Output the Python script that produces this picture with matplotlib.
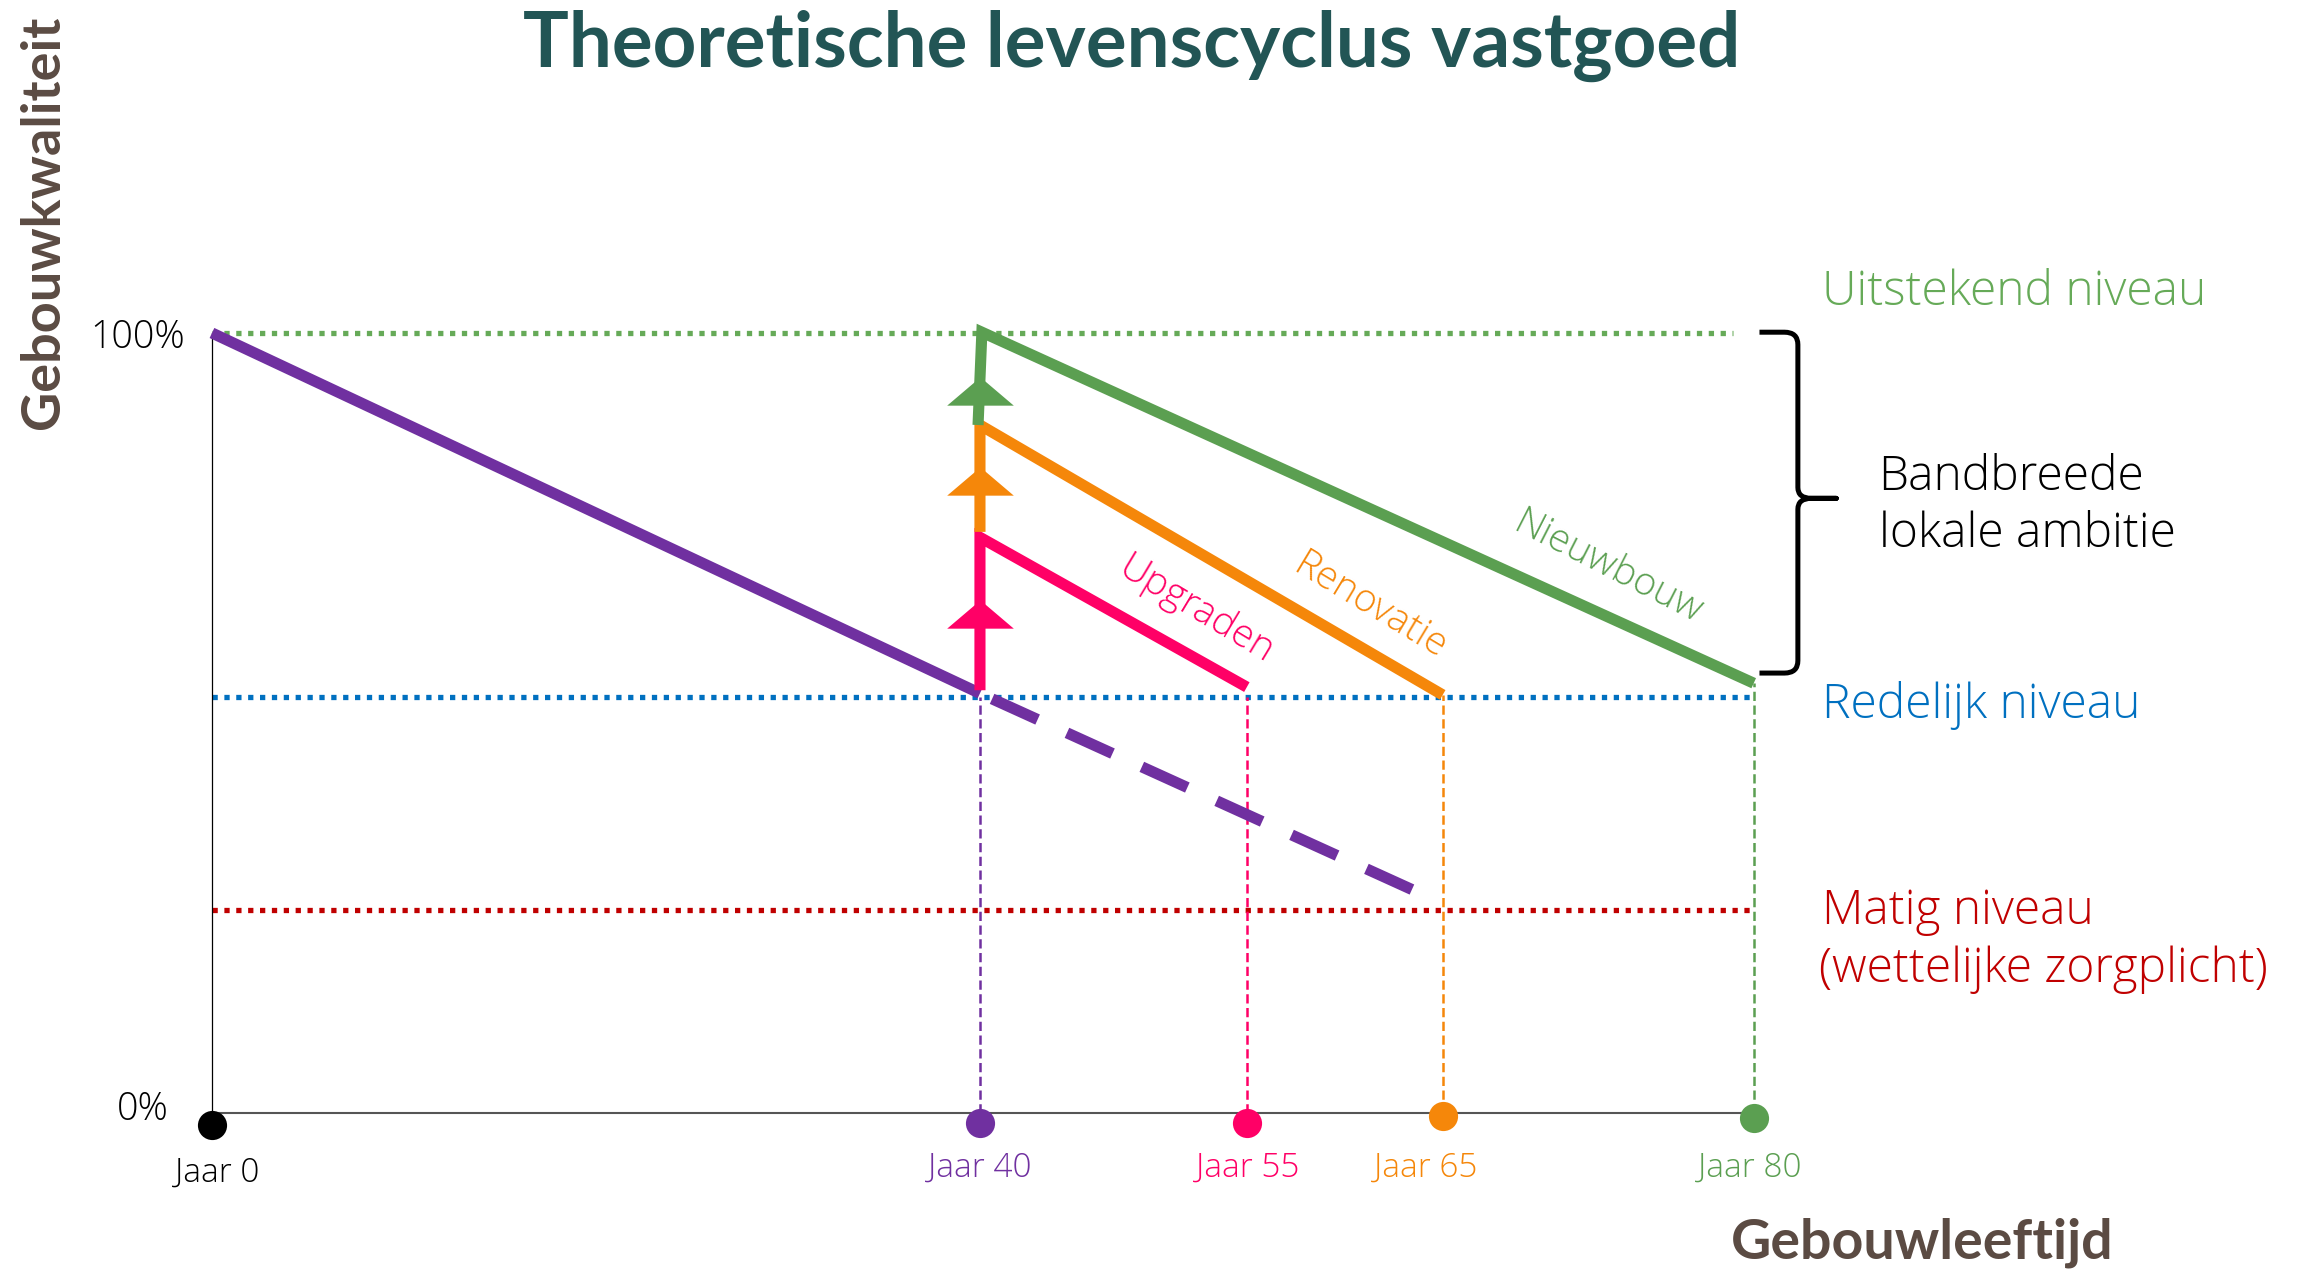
import matplotlib
matplotlib.use('Agg')
import matplotlib.pyplot as plt
from matplotlib.path import Path
from matplotlib.patches import PathPatch

# Data (x = gebouwleeftijd in jaren zoals getekend, y = gebouwkwaliteit in %)
jaar_x = [0, 40, 53.9, 64.1, 80.3]
jaar_labels = ['Jaar 0', 'Jaar 40', 'Jaar 55', 'Jaar 65', 'Jaar 80']
dot_y = [-1.5, -1.3, -1.3, -0.4, -0.7]
dot_colors = ['#000000', '#7030a0', '#ff0066', '#f5870a', '#5b9f51']

niveau_uitstekend = 100
niveau_redelijk = 53.3
niveau_matig = 26.0

veroudering_x = [0, 40]
veroudering_y = [100, 53.8]
verder_x = [40, 62.9]
verder_y = [53.8, 28.2]

upgraden_x = [40, 40, 53.9]
upgraden_y = [54.2, 73.8, 54.6]
renovatie_x = [40, 40, 64.1]
renovatie_y = [74.5, 88.2, 53.6]
nieuwbouw_x = [39.9, 40.1, 80.3]
nieuwbouw_y = [88.2, 100.1, 55.1]

pijl_y = [64.0, 81.0, 92.6]   # upgraden, renovatie, nieuwbouw

PURPLE = '#7030a0'
PINK = '#ff0066'
ORANGE = '#f5870a'
GREEN = '#5b9f51'
BLUE = '#0070c0'
RED = '#c00000'
BROWN = '#5b4b43'
TEAL = '#225555'

FONT = ['Open Sans', 'DejaVu Sans']
BOLD = ['Lato', 'DejaVu Sans']

fig = plt.figure(figsize=(23.18, 12.70), dpi=100)
ax = fig.add_axes([0, 0, 1, 1])
ax.set_xlim(-11.04, 109.69)
ax.set_ylim(-20.13, 142.69)
ax.axis('off')

# niveaulijnen
dots = (0, (1, 1.25))
ax.plot([0, 79.2], [niveau_uitstekend] * 2, color='#66aa58', lw=3.8, linestyle=dots)
ax.plot([0, 80.2], [niveau_redelijk] * 2, color=BLUE, lw=3.8, linestyle=dots)
ax.plot([0, 80.1], [niveau_matig] * 2, color=RED, lw=3.8, linestyle=dots)

# assen
ax.plot([0, 0], [0, 100], color='black', lw=0.9)
ax.plot([0, jaar_x[-1]], [0, 0], color='#555555', lw=1.5)

# verticale hulplijnen
drops = [(jaar_x[1], 53.3, PURPLE), (jaar_x[2], 53.3, PINK),
         (jaar_x[3], renovatie_y[-1], ORANGE), (jaar_x[4], nieuwbouw_y[-1], GREEN)]
for x, ytop, c in drops:
    ax.plot([x, x], [0, ytop], color=c, lw=1.8, linestyle=(0, (3.7, 1.8)))

# levenscyclus lijnen
kw = dict(lw=8, solid_capstyle='butt', solid_joinstyle='miter')
ax.plot(veroudering_x, veroudering_y, color=PURPLE, **kw)
ax.plot(verder_x, verder_y, color=PURPLE, lw=8, linestyle=(6.2, (4.5, 2.9)),
        dash_capstyle='butt')
ax.plot(upgraden_x, upgraden_y, color=PINK, **kw)
ax.plot(renovatie_x, renovatie_y, color=ORANGE, **kw)
ax.plot(nieuwbouw_x, nieuwbouw_y, color=GREEN, **kw)

# pijlpunten
tri = [(-1, -0.425), (1, -0.425), (0, 0.425)]
for y, c in zip(pijl_y, [PINK, ORANGE, GREEN]):
    ax.plot([40], [y], marker=tri, markersize=48, color=c, markeredgewidth=0)

# punten op de tijdas
for x, y, c in zip(jaar_x, dot_y, dot_colors):
    ax.plot([x], [y], 'o', markersize=21, color=c, markeredgewidth=0, zorder=5)
lab_x = [0.26, 40, 53.96, 63.2, 80.1]
lab_y = [-7.7, -7.0, -7.0, -7.0, -7.0]
for x, y, c, lab in zip(lab_x, lab_y, dot_colors, jaar_labels):
    ax.text(x, y, lab, color=c, fontsize=24, family=FONT, weight='light',
            ha='center', va='center')

# labels bij de lijnen
ax.text(51.25, 64.5, 'Upgraden', color=PINK, fontsize=28, family=FONT, weight='light',
        rotation=-31, rotation_mode='anchor', ha='center', va='center')
ax.text(60.3, 65.0, 'Renovatie', color=ORANGE, fontsize=28, family=FONT, weight='light',
        rotation=-31, rotation_mode='anchor', ha='center', va='center')
ax.text(72.7, 69.9, 'Nieuwbouw', color=GREEN, fontsize=28, family=FONT, weight='light',
        rotation=-27, rotation_mode='anchor', ha='center', va='center')

# accolade
bx0, bx1, bx2 = 80.6, 82.6, 84.6
yt, yb, ym = 100.1, 56.4, 78.8
verts = [(bx0, yt), (81.9, yt), (bx1, yt), (bx1, yt - 1.6),
         (bx1, ym + 1.4), (bx1, ym), (83.3, ym), (bx2, ym),
         (83.3, ym), (bx1, ym), (bx1, ym - 1.4),
         (bx1, yb + 1.6), (bx1, yb), (81.9, yb), (bx0, yb)]
codes = [Path.MOVETO, Path.LINETO, Path.CURVE3, Path.CURVE3,
         Path.LINETO, Path.CURVE3, Path.CURVE3, Path.LINETO,
         Path.LINETO, Path.CURVE3, Path.CURVE3,
         Path.LINETO, Path.CURVE3, Path.CURVE3, Path.LINETO]
ax.add_patch(PathPatch(Path(verts, codes), fill=False, lw=3.6, color='black',
                       capstyle='butt', joinstyle='round'))

# niveau teksten
tkw = dict(fontsize=34.5, family=FONT, weight='light', va='baseline')
ax.text(83.85, 103.6, 'Uitstekend niveau', color='#66aa58', **tkw)
ax.text(83.85, 50.6, 'Redelijk niveau', color=BLUE, **tkw)
ax.text(83.85, 24.2, 'Matig niveau', color=RED, **tkw)
ax.text(83.7, 16.8, '(wettelijke zorgplicht)', color=RED, **tkw)
ax.text(86.8, 79.9, 'Bandbreede', color='black', **tkw)
ax.text(86.8, 72.6, 'lokale ambitie', color='black', **tkw)

# as-labels
ax.text(-1.41, 99.4, '100%', fontsize=27, family=FONT, weight='light', ha='right', va='center')
ax.text(-2.24, 0.4, '0%', fontsize=27, family=FONT, weight='light', ha='right', va='center')
ax.text(-8.8, 114.2, 'Gebouwkwaliteit', color=BROWN, fontsize=39, family=BOLD,
        weight='bold', rotation=90, ha='center', va='center')
ax.text(79.1, -18.6, 'Gebouwleeftijd', color=BROWN, fontsize=40, family=BOLD,
        weight='bold', ha='left', va='baseline')

ax.text(47.9, 134.1, 'Theoretische levenscyclus vastgoed', color=TEAL, fontsize=55,
        family=BOLD, weight='bold', ha='center', va='baseline')

fig.savefig('out.png', dpi=100)
